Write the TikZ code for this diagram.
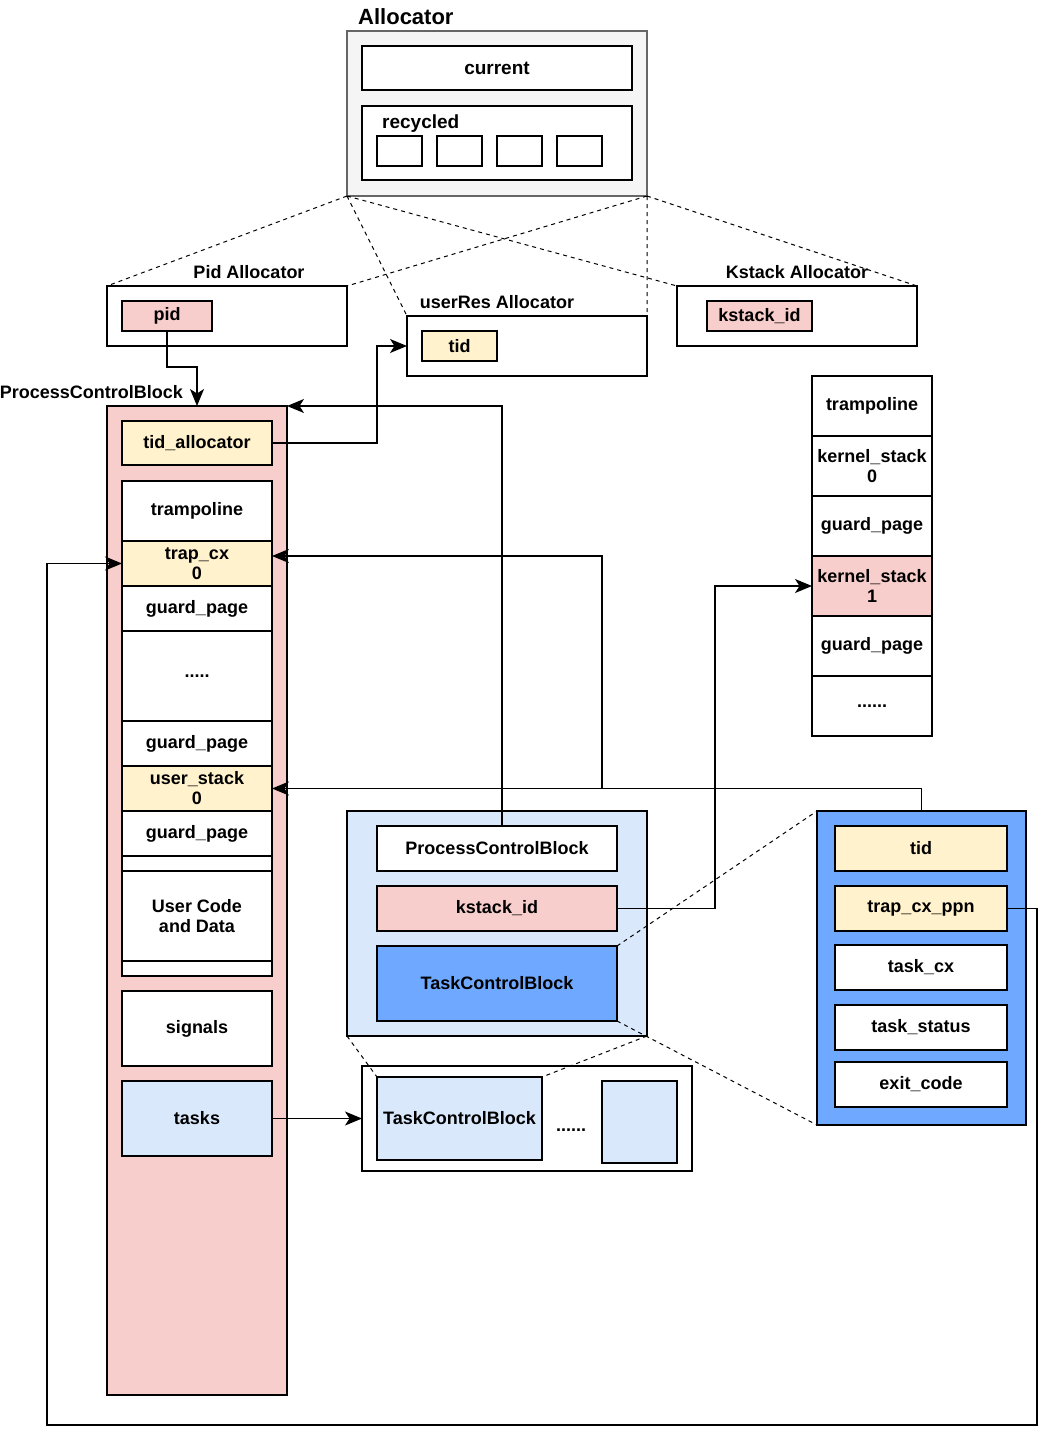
\documentclass[tikz,border=0pt]{standalone}
\usepackage{fontspec}
\setmainfont{Liberation Sans}
\usetikzlibrary{arrows.meta,positioning}
\definecolor{pinkf}{HTML}{F8CECC}
\definecolor{yelf}{HTML}{FFF2CC}
\definecolor{bluef}{HTML}{DAE8FC}
\definecolor{tcbf}{RGB}{111,168,255}
\definecolor{grayf}{HTML}{F5F5F5}
\definecolor{grayd}{HTML}{666666}
\tikzset{
  box/.style={draw,fill=#1,line width=1.2pt,anchor=north west,inner sep=0pt,outer sep=0pt,align=center,font=\bfseries\fontsize{18}{20}\selectfont},
  box/.default={white},
  row/.style={box=#1,minimum width=150pt,minimum height=45pt,anchor=north},
  row/.default={white},
  kcell/.style={box=#1,minimum width=120pt,minimum height=60pt,anchor=north},
  kcell/.default={white},
  fld/.style={box=#1,minimum width=172pt,minimum height=45pt},
  fld/.default={white},
  arr/.style={line width=1.3pt,-{Stealth[length=17pt,width=14pt,inset=4.5pt]}},
  dsh/.style={dash pattern=on 4pt off 4pt,line width=1pt},
  lbl/.style={inner sep=0pt,font=\bfseries\fontsize{18}{20}\selectfont},
}
\begin{document}
\begin{tikzpicture}[x=1pt,y=-1pt]
 \useasboundingbox (0,0) rectangle (1050,1440);
 % allocator
 \node[box=grayf,draw=grayd,minimum width=300pt,minimum height=165pt] (alloc) at (347,31) {};
 \node[lbl,anchor=base west,font=\bfseries\fontsize{22}{24}\selectfont] (alloct) at (358,24) {Allocator};
 \node[box,minimum width=270pt,minimum height=44pt,font=\bfseries\fontsize{19}{21}\selectfont] (cur) at (362,46) {current};
 \node[box,minimum width=270pt,minimum height=74pt] (rec) at (362,106) {};
 \node[lbl,anchor=base west,font=\bfseries\fontsize{19}{21}\selectfont] (rect) at (382,128) {recycled};
 \foreach \i in {0,...,3}
  \node[box,minimum width=45pt,minimum height=30pt] (slot\i) at (377+60*\i,136) {};
 % pid / userRes / kstack allocators
 \node[box,minimum width=240pt,minimum height=60pt] (pidA) at (107,286) {};
 \node[lbl,anchor=base] (pidAt) at (249,278) {Pid Allocator};
 \node[box=pinkf,minimum width=90pt,minimum height=30pt] (pid) at (122,301) {pid};
 \node[box,minimum width=240pt,minimum height=60pt] (ures) at (407,316) {};
 \node[lbl,anchor=base] (urest) at (497,308) {userRes Allocator};
 \node[box=yelf,minimum width=75pt,minimum height=30pt] (utid) at (422,331) {tid};
 \node[box,minimum width=240pt,minimum height=60pt] (ksA) at (677,286) {};
 \node[lbl,anchor=base] (ksAt) at (797,278) {Kstack Allocator};
 \node[box=pinkf,minimum width=105pt,minimum height=30pt] (ksid) at (707,301) {kstack\_id};
 \draw[dsh] (alloc.south west) -- (pidA.north west) (alloc.south west) -- (ures.north west) (alloc.south west) -- (ksA.north west);
 \draw[dsh] (alloc.south east) -- (pidA.north east) (alloc.south east) -- (ures.north east) (alloc.south east) -- (ksA.north east);
 % process control block
 \node[box=pinkf,minimum width=180pt,minimum height=989pt] (pcb) at (107,406) {};
 \node[lbl,anchor=base east] (pcbt) at (183,398) {ProcessControlBlock};
 \node[box=yelf,minimum width=150pt,minimum height=44pt] (tidalloc) at (122,421) {tid\_allocator};
 \node[box,minimum width=150pt,minimum height=495pt] (ustk) at (122,481) {};
 \node[row,minimum height=60pt,anchor=north west] (tramp) at (122,481) {trampoline};
 \node[row=yelf,below=0pt of tramp] (trapcx) {trap\_cx\\0};
 \node[row,below=0pt of trapcx] (gp1) {guard\_page};
 \node[row,minimum height=90pt,below=0pt of gp1] (udots) {.....};
 \node[row,below=0pt of udots] (gp2) {guard\_page};
 \node[row=yelf,below=0pt of gp2] (ustack) {user\_stack\\0};
 \node[row,below=0pt of ustack] (gp3) {guard\_page};
 \node[row,minimum height=90pt,anchor=north west] (code) at (122,871) {User Code\\and Data};
 \node[box,minimum width=150pt,minimum height=75pt] (sig) at (122,991) {signals};
 \node[box=bluef,minimum width=150pt,minimum height=75pt] (tasks) at (122,1081) {tasks};
 % kernel stacks
 \node[kcell,anchor=north west] (ktramp) at (812,376) {trampoline};
 \node[kcell,below=0pt of ktramp] (ks0) {kernel\_stack\\0};
 \node[kcell,below=0pt of ks0] (kgp1) {guard\_page};
 \node[kcell=pinkf,below=0pt of kgp1] (ks1) {kernel\_stack\\1};
 \node[kcell,below=0pt of ks1] (kgp2) {guard\_page};
 \node[kcell,below=0pt of kgp2] (kdots) {......};
 % task control block
 \node[box=bluef,minimum width=300pt,minimum height=225pt] (tcb) at (347,811) {};
 \node[box,minimum width=240pt,minimum height=45pt] (pcbref) at (377,826) {ProcessControlBlock};
 \node[box=pinkf,minimum width=240pt,minimum height=45pt] (kid) at (377,886) {kstack\_id};
 \node[box=tcbf,minimum width=240pt,minimum height=75pt] (tcbin) at (377,946) {TaskControlBlock};
 \node[box,minimum width=330pt,minimum height=105pt] (tlist) at (362,1066) {};
 \node[box=bluef,minimum width=165pt,minimum height=83pt] (tcb0) at (377,1077) {TaskControlBlock};
 \node[lbl,anchor=base] (tdots) at (571,1131) {......};
 \node[box=bluef,minimum width=75pt,minimum height=82pt] (tcbn) at (602,1081) {};
 % tcb fields
 \node[box=tcbf,minimum width=209pt,minimum height=314pt] (tcbd) at (817,811) {};
 \node[fld=yelf] (ttid) at (835,826) {tid};
 \node[fld=yelf] (ppn) at (835,886) {trap\_cx\_ppn};
 \node[fld] (tcx) at (835,945) {task\_cx};
 \node[fld] (tst) at (835,1005) {task\_status};
 \node[fld] (tex) at (835,1062) {exit\_code};
 \draw[dsh] (tcb.south west) -- (tcb0.north west) (tcb.south east) -- (tcb0.north east);
 \draw[dsh] (tcbin.north east) -- (tcbd.north west) (tcbin.south east) -- (tcbd.south west);
 % connectors
 \draw[arr] (pid.south) -- ++(0,36) -| (pcb.north);
 \draw[arr] (tidalloc.east) -- ++(105,0) |- (ures.west);
 \draw[arr] ([xshift=5pt]pcbref.north) |- (pcb.north east);
 \draw[arr] (tcbd.north) |- (ustack.east);
 \draw[arr] (tcbd.north) |- (602,788.5) |- ([yshift=7.5pt]trapcx.east);
 \draw[arr] (kid.east) -- ++(98,0) |- (ks1.west);
 \draw[arr] (ppn.east) -- ++(30,0) |- (47,1425) |- (trapcx.west);
 \draw[arr] (tasks.east) -- (tlist.west);
\end{tikzpicture}
\end{document}
